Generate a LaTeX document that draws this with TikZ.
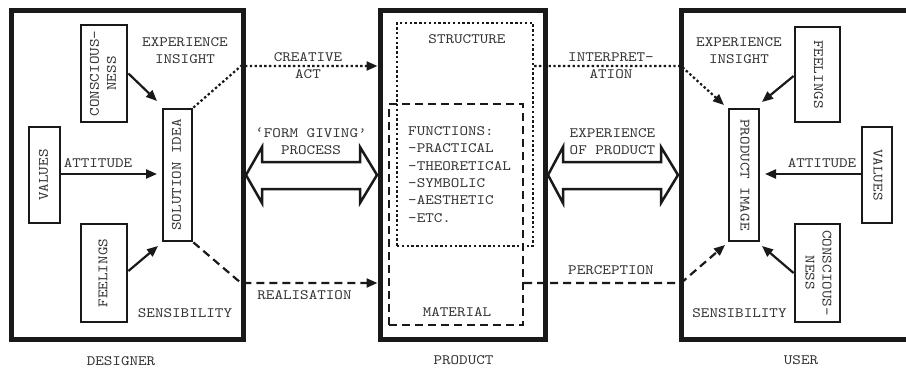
\documentclass[tikz,border=0pt]{standalone}
\usepackage{fontspec}
\setmainfont{lmmono10-regular.otf}[FakeStretch=1.14]
\usepackage{graphicx}
\usetikzlibrary{arrows.meta}
\newcommand{\vertup}[1]{\rotatebox{90}{\begin{tabular}{@{}c@{}}#1\end{tabular}}}
\newcommand{\vertdown}[1]{\rotatebox{-90}{\begin{tabular}{@{}c@{}}#1\end{tabular}}}
\begin{document}
\begin{tikzpicture}[x=1pt,y=-1pt,
  font=\fontsize{14.3}{17}\selectfont,
  txt/.style={text=black!80, inner sep=0pt, align=center},
  bigbox/.style={draw=black!90, line width=5pt, inner sep=0pt},
  smallbox/.style={draw=black!90, line width=2.8pt, inner sep=0pt, text=black!80},
  dotline/.style={line width=2.2pt, draw=black!90, dash pattern=on 2.4pt off 2.4pt},
  dashline/.style={line width=2.2pt, draw=black!90, dash pattern=on 8pt off 5pt},
  arr/.style={-{Triangle[length=11pt,width=9pt]}},
  link/.style={line width=2.2pt, draw=black!90},
  hollow/.style={line width=2.5pt, draw=black!90, line join=miter, fill=white},
]
\useasboundingbox (0,0) rectangle (906,369);
\fill[white] (0,0) rectangle (906,369);

% big boxes
\node[bigbox, minimum width=232pt, minimum height=328pt] (designer) at (127,175) {};
\node[bigbox, minimum width=165pt, minimum height=328pt] (product) at (462.5,175) {};
\node[bigbox, minimum width=232pt, minimum height=328pt] (user) at (797,175) {};

% product inner boxes
\node[dotline, minimum width=136pt, minimum height=223pt] (dotbox) at (465,134.5) {};
\node[dashline, minimum width=134pt, minimum height=221pt] (dashbox) at (456,214.5) {};

% designer inner boxes
\node[smallbox, minimum width=46pt, minimum height=97pt] (dcons) at (104,73.5) {\vertup{CONSCIOUS-\\NESS}};
\node[smallbox, minimum width=31pt, minimum height=96pt] (dval) at (44.5,175) {\vertup{VALUES}};
\node[smallbox, minimum width=29pt, minimum height=132pt] (sol) at (177.5,175) {\vertup{SOLUTION IDEA}};
\node[smallbox, minimum width=46pt, minimum height=98pt] (dfeel) at (104,273) {\vertup{FEELINGS}};

% user inner boxes
\node[smallbox, minimum width=30pt, minimum height=132pt] (img) at (744,175) {\vertdown{PRODUCT IMAGE}};
\node[smallbox, minimum width=45pt, minimum height=95pt] (ufeel) at (817.5,74.5) {\vertdown{FEELINGS}};
\node[smallbox, minimum width=30pt, minimum height=96pt] (uval) at (877,175) {\vertdown{VALUES}};
\node[smallbox, minimum width=45pt, minimum height=98pt] (ucons) at (817.5,273) {\vertdown{CONSCIOUS-\\NESS}};

% labels designer
\node[txt] (dexp) at (185,50.5) {EXPERIENCE\\INSIGHT};
\node[txt] (dsens) at (185,313) {SENSIBILITY};
\node[txt] (datt) at (98,163) {ATTITUDE};
\node[txt] (dlab) at (121,361) {DESIGNER};

% labels middle
\node[txt] (creat) at (308,65.5) {CREATIVE\\ACT};
\node[txt] (form) at (311,141.5) {‘FORM GIVING’\\PROCESS};
\node[txt] (real) at (304.5,295) {REALISATION};
\node[txt] (struct) at (467,39) {STRUCTURE};
\node[txt, align=left, anchor=west, font=\fontsize{14.3}{17.4}\selectfont] (func) at (408,174.5)
  {FUNCTIONS:\\-PRACTICAL\\-THEORETICAL\\-SYMBOLIC\\-AESTHETIC\\-ETC.};
\node[txt] (mat) at (457,312) {MATERIAL};
\node[txt] (plab) at (463.5,360) {PRODUCT};
\node[txt] (interp) at (611,65.5) {INTERPRET-\\ATION};
\node[txt] (expp) at (612.5,141.5) {EXPERIENCE\\OF PRODUCT};
\node[txt] (perc) at (611,270) {PERCEPTION};

% labels user
\node[txt] (uexp) at (739,50.5) {EXPERIENCE\\INSIGHT};
\node[txt] (usens) at (739.5,313) {SENSIBILITY};
\node[txt] (uatt) at (822,163) {ATTITUDE};
\node[txt] (ulab) at (801,360) {USER};

% coordinates
\coordinate (ca) at (241,66);
\coordinate (ra) at (241,283);
\coordinate (ia) at (681,66);
\coordinate (pa) at (681,283);
\coordinate (dconsT) at (157,101);
\coordinate (dvalT) at (157,174);
\coordinate (dfeelT) at (158,246);
\coordinate (ufeelT) at (762,102);
\coordinate (uvalT) at (765,174);
\coordinate (uconsT) at (762,246);
\coordinate (iaT) at (724,105);
\coordinate (paT) at (725,245);

% designer arrows
\draw[link, arr] (dcons.east) -- (dconsT);
\draw[link, arr] (dval.east |- dvalT) -- (dvalT);
\draw[link, arr] (dfeel.east |- 0,271) -- (dfeelT);

% user arrows
\draw[link, arr] (ufeel.west |- 0,76) -- (ufeelT);
\draw[link, arr] (uval.west |- uvalT) -- (uvalT);
\draw[link, arr] (ucons.west |- 0,273) -- (uconsT);

% connectors to product
\draw[dotline, arr] (sol.north east) -- (ca) -- (product.west |- ca);
\draw[dashline, arr] (sol.south east) -- (ra) -- (product.west |- ra);
\draw[dotline, arr] (dotbox.east |- ia) -- (ia) -- (iaT);
\draw[dashline, arr] (dashbox.east |- pa) -- (pa) -- (paT);

% hollow double arrows
\draw[hollow] (246,175) -- (262,147) -- (262,162) -- (360,162) -- (360,147) -- (377,175)
  -- (360,203) -- (360,189) -- (262,189) -- (262,203) -- cycle;
\draw[hollow] (548,175) -- (563,147) -- (563,162) -- (661,162) -- (661,147) -- (678,175)
  -- (661,203) -- (661,189) -- (563,189) -- (563,203) -- cycle;
\end{tikzpicture}
\end{document}
